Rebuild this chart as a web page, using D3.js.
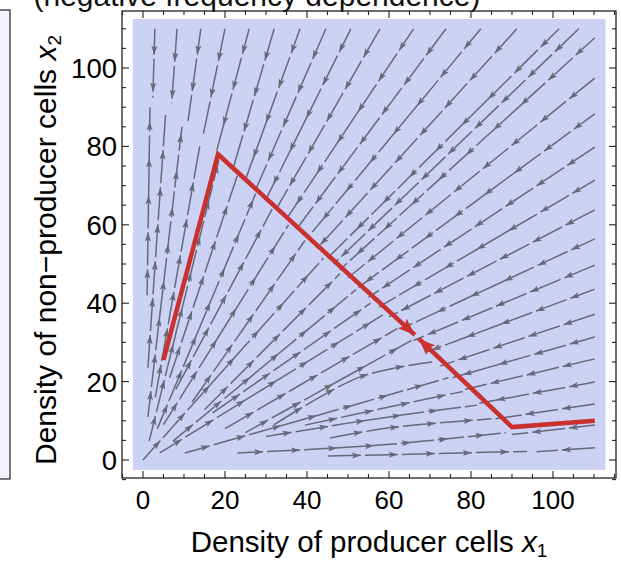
<!DOCTYPE html>
<html lang="en">
<head>
<meta charset="UTF-8">
<script src="https://d3js.org/d3.v7.min.js"></script>
<title>Stream plot</title>
<style>
    body{ margin:0; background:#fff; }
    svg{ display:block; font-family:"Liberation Sans", Arial, sans-serif; }
</style>
</head>
<body>
<svg width="621" height="564"></svg>
<script>
// axis ticks
const xTicks = [0, 20, 40, 60, 80, 100]
const yTicks = [0, 20, 40, 60, 80, 100]
const minorTicks = d3.range(-5, 116, 5)

// stream lines, [x1, x2] in flow order
// coming in from the top and right edges
const inLines = [
    [[2.9,110],[2.4,92.5]], [[8.3,110],[7,91]], [[14.1,110],[11,86.5]], [[20,110],[14.6,82.5]],
    [[25.9,110],[18,79]], [[32,110],[22,74.5]], [[38.3,110],[25,71.5]], [[44.6,110],[27.5,69]],
    [[50.7,110],[30,66.5]], [[57.8,110],[32.5,64]], [[66,110],[35,61.5]], [[73.9,110],[37.5,59]],
    [[82.4,110],[40,56.5]], [[91.2,110],[42.5,54]], [[101.5,110],[45,51.5]], [[106.3,110],[46.5,50]],
    [[110.2,107.7],[48,48.5]], [[110.2,97.4],[50,46.5]], [[110.2,88.3],[52.5,44]],
    [[110.2,79.8],[55,41.5]], [[110.2,71.4],[57.5,39]], [[110.2,63.8],[60,36.5]],
    [[110.2,56.4],[63,33.5]], [[110.2,49.7],[66,30.5]], [[110.2,43.6],[69,27.5]],
    [[110.2,37.2],[72.5,24]], [[110.2,31.4],[75.5,21]], [[110.2,25.8],[78.5,18]],
    [[110.2,19.9],[82,14.5]], [[110.2,14.3],[86,10.5]], [[110.2,8.9],[90,6.5]], [[110.2,3.1],[96,2.1]]
]
// going out from near the origin
const outLines = [
    [[1,42],[1.7,90]], [[1.2,23.5],[2.4,41.6],[5.5,88]], [[1.2,11],[9.5,85]],
    [[3,16],[14,81]], [[1.5,4.8],[18.5,76.5]], [[6.5,21],[23,72.5]],
    [[3.5,8],[27.5,68]], [[8,18],[31.5,64]], [[5,9],[35.5,60]],
    [[12,14.8],[39.5,56]], [[0,0],[44,51.5]], [[15,12.8],[48,47.5]],
    [[7.3,4.8],[52,43.5]], [[17,12],[55.5,40]], [[4.1,1.8],[58.5,37]],
    [[20,8],[62,33.5]], [[25,7],[65.5,30.5]], [[32,9],[53,21.2],[70.5,25]],
    [[10.2,1.8],[53,14.5],[74.5,21]], [[39.5,8.9],[60,13.5],[78,17.5]],
    [[30,6],[60,11],[81.5,14]], [[45.6,5.6],[60,8.2],[85,10.5]],
    [[23,1.8],[57.8,3.8],[88.5,7]], [[45.1,1.0],[57.8,1.3],[93.7,2.2]]
]

// red trajectories
const redA = [[5,25.5],[18.3,78],[66.3,31.9]]
const redB = [[110.2,10],[90,8.4],[67.2,31.0]]

const svg = d3.select("svg")
const x = d3.scaleLinear().domain([-5.12, 115.37]).range([122, 616])
const y = d3.scaleLinear().domain([-4.59, 114.54]).range([478, 11])

// left neighbour panel edge
svg.append("rect").attr("x", -20).attr("y", 10).attr("width", 30).attr("height", 469)
    .attr("fill", "#f1f3fc").attr("stroke", "#222").attr("stroke-width", 1.2)

// title (cut off at top)
svg.append("text").attr("x", 257).attr("y", 6).attr("text-anchor", "middle")
    .attr("font-size", 30).attr("fill", "#111").text("(negative frequency dependence)")

// background
svg.append("rect").attr("x", x(-2.5)).attr("y", y(112.5))
    .attr("width", x(112.8) - x(-2.5)).attr("height", y(-2.5) - y(112.5))
    .attr("fill", "#cbd2f4")

const line = d3.line().x(d => x(d[0])).y(d => y(d[1])).curve(d3.curveCatmullRom)
const gStream = svg.append("g")
const gray = "#656979"

function arrowHead(g, px, py, ang, len, wid, col) {
    g.append("path")
        .attr("d", `M0,0 L${-len},${-wid/2} L${-len*0.8},0 L${-len},${wid/2} Z`)
        .attr("transform", `translate(${px},${py}) rotate(${ang * 180 / Math.PI})`)
        .attr("fill", col)
}

function drawStream(pts, i) {
    let p = gStream.append("path").attr("d", line(pts))
        .attr("fill", "none").attr("stroke", gray).attr("stroke-width", 1.5)
    let L = p.node().getTotalLength()
    let step = 37, off = 26 + (i * 7) % 14
    // small gap after every arrow, like the segmented stream lines
    p.attr("stroke-dasharray", `${off},4,${step - 4},4`)
    for (let s = off; s < L - 4; s += step) {
        let a = p.node().getPointAtLength(s), b = p.node().getPointAtLength(s - 2)
        arrowHead(gStream, a.x, a.y, Math.atan2(a.y - b.y, a.x - b.x), 9, 6, gray)
    }
}
inLines.forEach(drawStream)
outLines.forEach(drawStream)

// red trajectories
const redLine = d3.line().x(d => x(d[0])).y(d => y(d[1]))
;[redA, redB].forEach(r => {
    svg.append("path").attr("d", redLine(r))
        .attr("fill", "none").attr("stroke", "#c9302e").attr("stroke-width", 4.5)
        .attr("stroke-linejoin", "miter")
    let a = r[r.length - 1], b = r[r.length - 2]
    let ang = Math.atan2(y(a[1]) - y(b[1]), x(a[0]) - x(b[0]))
    arrowHead(svg, x(a[0]), y(a[1]), ang, 17, 13, "#c9302e")
})

// frame
svg.append("rect").attr("x", 122).attr("y", 11).attr("width", 494).attr("height", 467)
    .attr("fill", "none").attr("stroke", "#222").attr("stroke-width", 1.3)

// ticks, pointing inward
const tk = svg.append("g").attr("stroke", "#222").attr("stroke-width", 1.1)
minorTicks.forEach(v => {
    let long = v % 20 === 0 ? 7 : 4
    tk.append("line").attr("x1", x(v)).attr("x2", x(v)).attr("y1", 478).attr("y2", 478 - long)
    tk.append("line").attr("x1", x(v)).attr("x2", x(v)).attr("y1", 11).attr("y2", 11 + long)
    if (v <= 114) {
        tk.append("line").attr("y1", y(v)).attr("y2", y(v)).attr("x1", 122).attr("x2", 122 + long)
        tk.append("line").attr("y1", y(v)).attr("y2", y(v)).attr("x1", 616).attr("x2", 616 - long)
    }
})

svg.selectAll(".xl").data(xTicks).join("text").attr("class", "xl")
    .attr("x", d => x(d)).attr("y", 509).attr("text-anchor", "middle")
    .attr("font-size", 26).text(d => d)
svg.selectAll(".yl").data(yTicks).join("text").attr("class", "yl")
    .attr("x", 117).attr("y", d => y(d) + 10).attr("text-anchor", "end")
    .attr("font-size", 27.5).text(d => d)

// axis labels
let xl = svg.append("text").attr("x", 369).attr("y", 552).attr("text-anchor", "middle").attr("font-size", 29.5)
xl.append("tspan").text("Density of producer cells ")
xl.append("tspan").attr("font-style", "italic").text("x")
xl.append("tspan").attr("font-size", 19).attr("dy", 5).text("1")

let yl = svg.append("text").attr("transform", "translate(56,250) rotate(-90)")
    .attr("text-anchor", "middle").attr("font-size", 30)
yl.append("tspan").text("Density of non\u2212producer cells ")
yl.append("tspan").attr("font-style", "italic").text("x")
yl.append("tspan").attr("font-size", 19).attr("dy", 5).text("2")
</script>
</body>
</html>
